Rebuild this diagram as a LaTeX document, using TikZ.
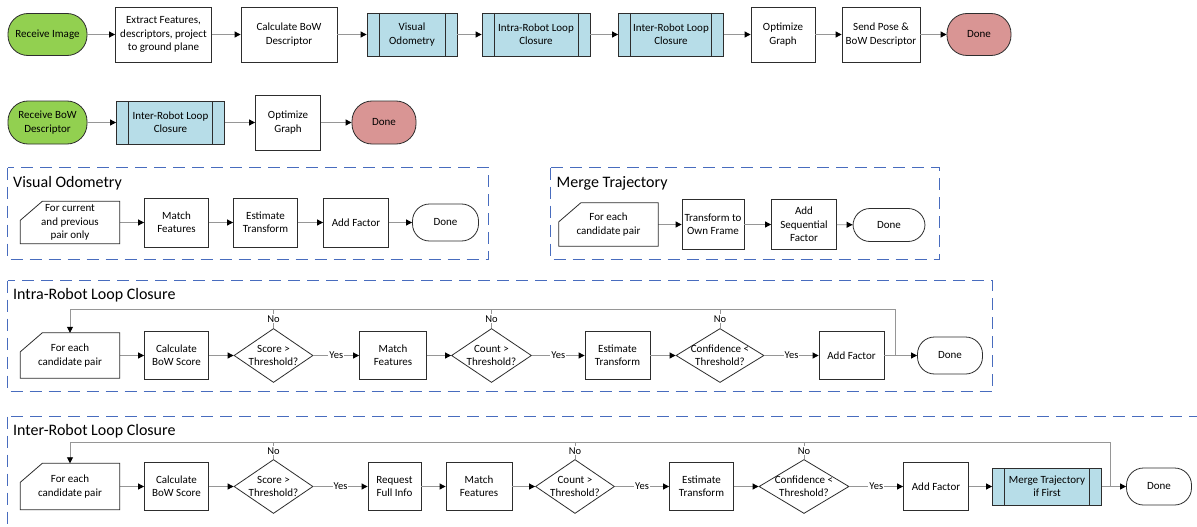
\documentclass[tikz,border=0pt]{standalone}
\usepackage{fontspec}
\setmainfont{Carlito}
\usetikzlibrary{arrows.meta,shapes.geometric,calc}
\definecolor{startgreen}{RGB}{146,208,80}
\definecolor{donered}{RGB}{217,149,148}
\definecolor{subblue}{RGB}{183,221,232}
\definecolor{groupblue}{RGB}{72,108,190}
\definecolor{flowgray}{RGB}{150,150,150}
\definecolor{edgegray}{RGB}{45,45,45}

\tikzset{
  base/.style={draw=edgegray, line width=0.8pt, align=center, inner sep=2pt,
    font=\fontsize{11}{13.4}\selectfont},
  procbox/.style={base, rectangle, minimum height=48},
  termbox/.style={base, rectangle, rounded corners=17pt, minimum height=37},
  cardbox/.style={align=center, inner sep=1pt, font=\fontsize{11}{13.4}\selectfont,
    minimum width=99},
  subproc/.style={base, fill=subblue, minimum height=43,
    path picture={
      \draw[edgegray, line width=0.8pt]
        ([xshift=12pt]path picture bounding box.north west) -- ([xshift=12pt]path picture bounding box.south west)
        ([xshift=-12pt]path picture bounding box.north east) -- ([xshift=-12pt]path picture bounding box.south east);
    }},
  decision/.style={base, diamond, minimum height=54, inner sep=0pt},
  dectext/.style={font=\fontsize{11}{13.4}\selectfont, align=center, inner sep=0pt},
  flow/.style={draw=flowgray, line width=0.8pt, -{Triangle[length=6pt,width=6pt,color=black]}},
  plainline/.style={draw=flowgray, line width=0.8pt},
  yesno/.style={fill=white, inner sep=1pt, font=\fontsize{10.5}{11}\selectfont},
  groupbox/.style={draw=groupblue, line width=1pt, dash pattern=on 12pt off 7pt},
  grouptitle/.style={anchor=west, inner sep=2pt, font=\fontsize{16}{19}\selectfont},
}

\begin{document}
\begin{tikzpicture}[x=1pt, y=-1pt]
  \path[use as bounding box, fill=white] (0,0) rectangle (1197,527);

  % Main pipeline
  \node[termbox, fill=startgreen, rounded corners=20pt, minimum width=79, minimum height=42] (recimg) at (47.5,34.5) {Receive Image};
  \node[procbox, minimum width=96, minimum height=55] (extract) at (163.5,34.5) {Extract Features,\\descriptors, project\\to ground plane};
  \node[procbox, minimum width=96, minimum height=55] (calcbow) at (289,34.5) {Calculate BoW\\Descriptor};
  \node[subproc, minimum width=90] (vo) at (412,34.5) {Visual\\Odometry};
  \node[subproc, minimum width=108] (intra) at (536,34.5) {Intra-Robot Loop\\Closure};
  \node[subproc, minimum width=105] (inter) at (671,34.5) {Inter-Robot Loop\\Closure};
  \node[procbox, minimum width=64, minimum height=55] (optim) at (783,34.5) {Optimize\\Graph};
  \node[procbox, minimum width=78, minimum height=55] (send) at (881,34.5) {Send Pose \&\\BoW Descriptor};
  \node[termbox, fill=donered, rounded corners=20pt, minimum width=64, minimum height=42] (done) at (979,34.5) {Done};
  \foreach \a/\b in {recimg/extract, extract/calcbow, calcbow/vo, vo/intra, intra/inter, inter/optim, optim/send, send/done}
    \draw[flow] (\a) -- (\b);

  % Received descriptor pipeline
  \node[termbox, fill=startgreen, rounded corners=20pt, minimum width=79, minimum height=43] (recbow) at (47.5,122.5) {Receive BoW\\Descriptor};
  \node[subproc, minimum width=108] (inter2) at (170.5,122.5) {Inter-Robot Loop\\Closure};
  \node[procbox, minimum width=65, minimum height=55] (optim2) at (288,122.5) {Optimize\\Graph};
  \node[termbox, fill=donered, rounded corners=20pt, minimum width=64, minimum height=43] (done2) at (384,122.5) {Done};
  \foreach \a/\b in {recbow/inter2, inter2/optim2, optim2/done2}
    \draw[flow] (\a) -- (\b);

  % Visual odometry
  \draw[groupbox] (7.5,167.5) rectangle (488.5,259.5);
  \node[grouptitle] (votitle) at (11,183) {Visual Odometry};
  \node[cardbox, minimum height=42] (vostart) at (70,222.5) {For current\\and previous\\pair only};
  \node[procbox, minimum width=64, minimum height=49] (vomatch) at (176.5,222.5) {Match\\Features};
  \node[procbox, minimum width=64, minimum height=49] (voest) at (265.5,222.5) {Estimate\\Transform};
  \node[procbox, minimum width=65, minimum height=49] (voadd) at (356,222.5) {Add Factor};
  \node[termbox, minimum width=66] (vodone) at (445.5,222.5) {Done};
  \foreach \a/\b in {vostart/vomatch, vomatch/voest, voest/voadd, voadd/vodone}
    \draw[flow] (\a) -- (\b);

  % Merge trajectory
  \draw[groupbox] (550.5,167.5) rectangle (939.5,259.5);
  \node[grouptitle] (mttitle) at (554.5,183) {Merge Trajectory};
  \node[cardbox, minimum height=43] (mtstart) at (608.5,224.5) {For each\\candidate pair};
  \node[procbox, minimum width=62, minimum height=50] (mtown) at (713,224.5) {Transform to\\Own Frame};
  \node[procbox, minimum width=65, minimum height=50] (mtseq) at (804,224.5) {Add\\Sequential\\Factor};
  \node[termbox, minimum width=72, minimum height=33] (mtdone) at (889,225) {Done};
  \foreach \a/\b in {mtstart/mtown, mtown/mtseq, mtseq/mtdone}
    \draw[flow] (\a) -- (\b);

  % Intra-robot loop closure
  \draw[groupbox] (7.5,280.5) rectangle (992.5,391.5);
  \node[grouptitle] (iatitle) at (11,295.5) {Intra-Robot Loop Closure};
  \node[cardbox, minimum height=45] (iastart) at (70,355.5) {For each\\candidate pair};
  \node[procbox, minimum width=64] (iacalc) at (176.5,355.5) {Calculate\\BoW Score};
  \node[decision, minimum width=79, label={[dectext]center:Score >\\Threshold?}] (iascore) at (273.5,355.5) {};
  \node[procbox, minimum width=67] (iamatch) at (393,355.5) {Match\\Features};
  \node[decision, minimum width=80, label={[dectext]center:Count >\\Threshold?}] (iacount) at (491.5,355.5) {};
  \node[procbox, minimum width=65] (iaest) at (617.5,355.5) {Estimate\\Transform};
  \node[decision, minimum width=88, label={[dectext]center:Confidence <\\Threshold?}] (iaconf) at (720,355.5) {};
  \node[procbox, minimum width=65] (iaadd) at (851.5,355.5) {Add Factor};
  \node[termbox, minimum width=65] (iadone) at (950,355.5) {Done};
  \coordinate (iajoin) at (895,355.5);
  \coordinate (ialoop) at (895,309.5);
  \foreach \a/\b in {iastart/iacalc, iacalc/iascore, iamatch/iacount, iaest/iaconf, iaadd/iadone}
    \draw[flow] (\a) -- (\b);
  \draw[flow] (iascore) -- node[yesno] (iayes1) {Yes} (iamatch);
  \draw[flow] (iacount) -- node[yesno] (iayes2) {Yes} (iaest);
  \draw[flow] (iaconf) -- node[yesno] (iayes3) {Yes} (iaadd);
  \draw[plainline] (iascore.north) -- (iascore.north |- ialoop) node[midway, yesno] (iano1) {No};
  \draw[plainline] (iacount.north) -- (iacount.north |- ialoop) node[midway, yesno] (iano2) {No};
  \draw[plainline] (iaconf.north) -- (iaconf.north |- ialoop) node[midway, yesno] (iano3) {No};
  \draw[flow] (iajoin) -- (ialoop) -| (iastart.north);

  % Inter-robot loop closure
  \draw[groupbox] (7.5,416.5) rectangle (1230,560);
  \node[grouptitle] (ietitle) at (11,431.5) {Inter-Robot Loop Closure};
  \node[cardbox, minimum height=46] (iestart) at (70,486.5) {For each\\candidate pair};
  \node[procbox, minimum width=64] (iecalc) at (176.5,486.5) {Calculate\\BoW Score};
  \node[decision, minimum width=79, label={[dectext]center:Score >\\Threshold?}] (iescore) at (273.5,486.5) {};
  \node[procbox, minimum width=53] (iereq) at (394.5,486.5) {Request\\Full Info};
  \node[procbox, minimum width=66] (iematch) at (479,486.5) {Match\\Features};
  \node[decision, minimum width=79, label={[dectext]center:Count >\\Threshold?}] (iecount) at (575,486.5) {};
  \node[procbox, minimum width=64] (ieest) at (701.5,486.5) {Estimate\\Transform};
  \node[decision, minimum width=90, label={[dectext]center:Confidence <\\Threshold?}] (ieconf) at (804,486.5) {};
  \node[procbox, minimum width=65] (ieadd) at (936,486.5) {Add Factor};
  \node[subproc, minimum width=109, minimum height=37] (iemerge) at (1047,486.5) {Merge Trajectory\\if First};
  \node[termbox, minimum width=65] (iedone) at (1159,486.5) {Done};
  \coordinate (iejoin) at (1110.7,486.5);
  \coordinate (ieloop) at (1110.7,442.5);
  \foreach \a/\b in {iestart/iecalc, iecalc/iescore, iereq/iematch, iematch/iecount, ieest/ieconf, ieadd/iemerge, iemerge/iedone}
    \draw[flow] (\a) -- (\b);
  \draw[flow] (iescore) -- node[yesno] (ieyes1) {Yes} (iereq);
  \draw[flow] (iecount) -- node[yesno] (ieyes2) {Yes} (ieest);
  \draw[flow] (ieconf) -- node[yesno] (ieyes3) {Yes} (ieadd);
  \draw[plainline] (iescore.north) -- (iescore.north |- ieloop) node[midway, yesno] (ieno1) {No};
  \draw[plainline] (iecount.north) -- (iecount.north |- ieloop) node[midway, yesno] (ieno2) {No};
  \draw[plainline] (ieconf.north) -- (ieconf.north |- ieloop) node[midway, yesno] (ieno3) {No};
  \draw[flow] (iejoin) -- (ieloop) -| (iestart.north);

  % Card outlines
  \foreach \n in {vostart, mtstart, iastart, iestart}
    \draw[edgegray, line width=0.8pt] ([xshift=22pt]\n.north west) -- (\n.north east) -- (\n.south east)
      -- (\n.south west) -- ([yshift=-19pt]\n.north west) -- cycle;
\end{tikzpicture}
\end{document}
